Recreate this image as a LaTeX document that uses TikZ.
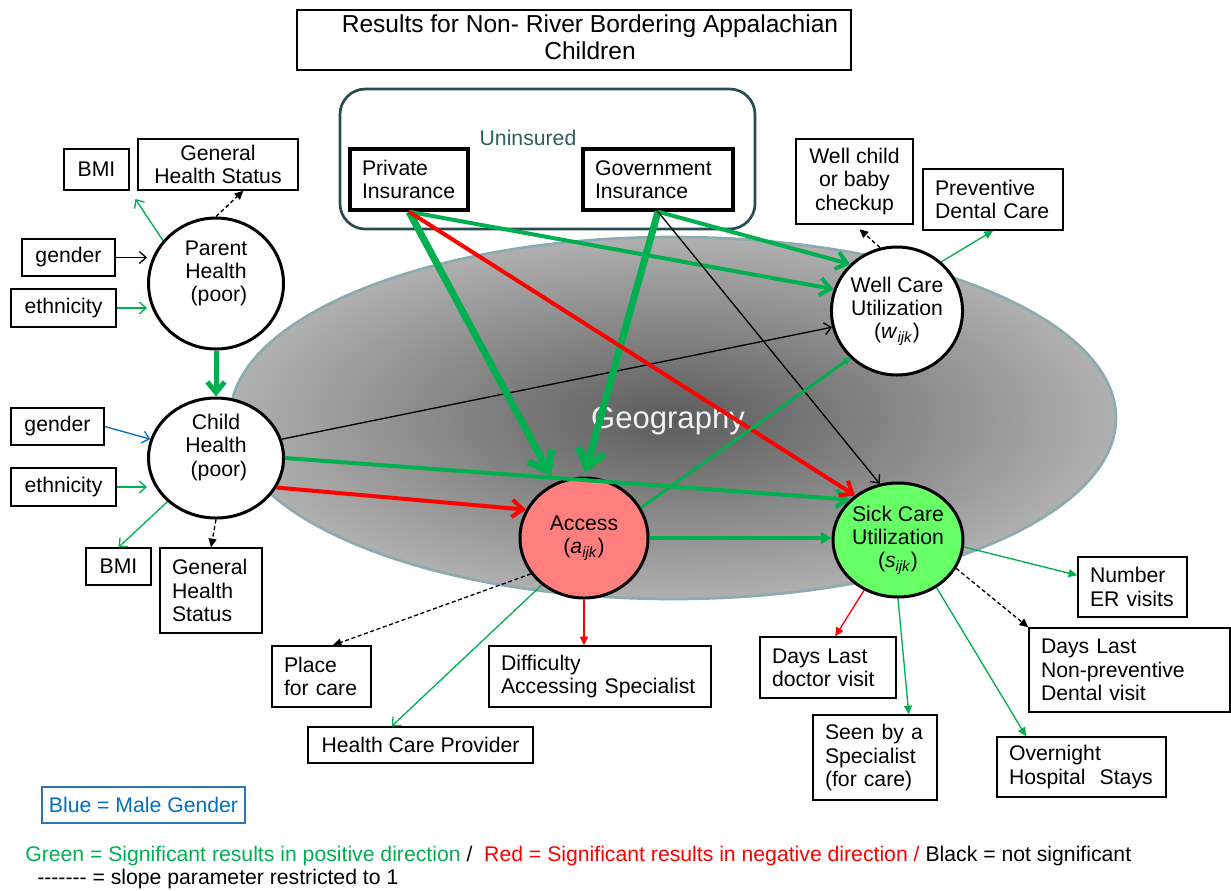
\documentclass[tikz,border=0pt]{standalone}
\usepackage{fontspec}
\setmainfont{Liberation Sans}
\usetikzlibrary{arrows.meta,shapes.geometric,calc}
\definecolor{pgreen}{RGB}{0,176,80}
\definecolor{pred}{RGB}{255,0,0}
\definecolor{pblue}{RGB}{0,112,192}
\definecolor{bluebox}{RGB}{46,117,182}
\definecolor{tealrim}{RGB}{38,75,80}
\definecolor{tealtext}{RGB}{47,92,96}
\definecolor{georim}{RGB}{140,170,175}
\definecolor{accfill}{RGB}{255,127,127}
\definecolor{sickfill}{RGB}{102,255,102}
\begin{document}
\begin{tikzpicture}[x=0.75pt,y=-0.75pt,
  font=\fontsize{15.9}{17.5}\selectfont,
  box/.style={draw,line width=1.1pt,inner sep=0pt,align=center},
  lbox/.style={draw,line width=1.1pt,inner xsep=9pt,inner ysep=0pt,align=left},
  ibox/.style={draw,line width=2.6pt,inner xsep=9pt,inner ysep=0pt,align=left},
  circ/.style={ellipse,draw,line width=2.25pt,fill=white,inner sep=0pt,align=center},
  ctext/.style={align=center,inner sep=0pt},
  lnA/.style={line width=1pt},
  lnB/.style={line width=3pt},
  lnC/.style={line width=5.25pt},
  dsh/.style={line width=1pt,dash pattern=on 3pt off 2pt},
  otip/.style={-{Straight Barb[length=5pt,width=9pt]}},
  otipm/.style={-{Straight Barb[length=8pt,width=13pt]}},
  otipL/.style={-{Straight Barb[length=13pt,width=20pt]}},
  ftip/.style={-{Triangle[length=6.5pt,width=6pt]}}
]
\useasboundingbox (0,0) rectangle (1231,890);
% geography ellipse
\path[draw=georim,line width=2pt,inner color=black!64,outer color=black!31]
  (673,418) ellipse [x radius=332.25pt, y radius=135.75pt];
\node[text=white!95!black,font=\fontsize{23.3}{28}\selectfont] (geo) at (668,420) {Geography};

% title
\node[draw,line width=1.5pt,minimum width=415.5pt,minimum height=45pt] (title) at (574,40) {};
\node[ctext,font=\fontsize{18.4}{20}\selectfont] (titletext) at (590,37)
  {Results for Non- River Bordering Appalachian\\Children};

% uninsured container
\node[draw=tealrim,line width=2pt,rounded corners=19pt,minimum width=311.25pt,minimum height=105pt] (unins) at (547.5,159) {};
\node[text=tealtext] (uninsl) at (528,138) {Uninsured};
\node[ibox,text width=70.5pt,minimum height=45.75pt] (pr) at (409,179.5) {Private\\Insurance};
\node[ibox,text width=94.5pt,minimum height=45.75pt] (gov) at (658,179.5) {Government\\Insurance};

% left boxes
\node[box,line width=1.8pt,minimum width=48.75pt,minimum height=30.75pt] (bmiA) at (96.5,169.5) {BMI};
\node[box,minimum width=120pt,minimum height=38.25pt] (ghsA) at (218,164.5) {General\\\mbox{Health Status}};
\node[box,minimum width=69.75pt,minimum height=27.75pt] (genA) at (68.5,257.5) {gender};
\node[box,minimum width=78.75pt,minimum height=28.5pt] (ethA) at (63.5,308) {ethnicity};
\node[box,minimum width=69.75pt,minimum height=27.75pt] (genB) at (57.5,426.5) {gender};
\node[box,minimum width=78.75pt,minimum height=28.5pt] (ethB) at (63.5,487) {ethnicity};
\node[box,minimum width=48.75pt,minimum height=27.75pt] (bmiB) at (118.5,566.5) {BMI};
\node[lbox,text width=58.5pt,minimum height=63.75pt] (ghsB) at (211,590.5) {General\\Health\\Status};

% right / bottom boxes
\node[box,minimum width=87.75pt,minimum height=63.75pt] (wellchild) at (854.5,181.5) {\mbox{Well child}\\\mbox{or baby}\\checkup};
\node[lbox,text width=87pt,minimum height=45.75pt] (prevdental) at (993,199.5) {Preventive\\\mbox{Dental Care}};
\node[lbox,text width=63.75pt,minimum height=45pt] (numER) at (1132.5,587) {Number\\\mbox{ER visits}};
\node[lbox,text width=132.75pt,minimum height=63pt] (dental) at (1129.5,670) {\mbox{Days Last}\\Non-preventive\\\mbox{Dental visit}};
\node[lbox,text width=84pt,minimum height=45.75pt] (doctor) at (828,667.5) {\mbox{Days Last}\\\mbox{doctor visit}};
\node[lbox,text width=75pt,minimum height=63.75pt] (seen) at (875,757.5) {\mbox{Seen by a}\\Specialist\\\mbox{(for care)}};
\node[lbox,text width=108.75pt,minimum height=45pt] (overnight) at (1081.5,767) {Overnight\\\mbox{Hospital\ \ Stays}};
\node[lbox,text width=56.25pt,minimum height=45.75pt] (place) at (321.5,676.5) {Place\\\mbox{for care}};
\node[lbox,text width=148.5pt,minimum height=45.75pt] (diff) at (600,676.5) {Difficulty\\\mbox{Accessing Specialist}};
\node[box,minimum width=168.75pt,minimum height=27pt] (hcp) at (420.5,745) {Health Care Provider};

% circles
\node[circ,minimum width=101.25pt,minimum height=98.25pt] (ph) at (216,283.5) {};
\node[ctext] (phtext) at (216,273.5) {Parent\\Health\\\ (poor)};
\node[circ,minimum width=101.25pt,minimum height=90pt] (ch) at (216,458) {};
\node[ctext] (chtext) at (216,447.5) {Child\\Health\\\ (poor)};
\node[circ,minimum width=96pt,minimum height=96pt] (wl) at (897,311) {Well Care\\Utilization\\(\textit{w}\textsubscript{\textit{ijk}})};
\node[circ,fill=accfill,minimum width=96pt,minimum height=90pt] (ac) at (584,538) {Access\\(\textit{a}\textsubscript{\textit{ijk}})};
\node[circ,fill=sickfill,minimum width=97.5pt,minimum height=85.5pt] (sk) at (898,540) {Sick Care\\Utilization\\(\textit{s}\textsubscript{\textit{ijk}})};

% legend
\node[draw=bluebox,line width=1.1pt,minimum width=152.25pt,minimum height=27pt,text=pblue,inner sep=0pt] (blueleg) at (143.5,805) {Blue = Male Gender};
\node[anchor=west,inner sep=0pt] (leg1) at (25,856)
  {\textcolor{pgreen}{Green = Significant results in positive direction} /\ \ \textcolor{pred}{Red = Significant results in negative direction /} Black = not significant};
\node[anchor=west,inner sep=0pt] (leg2) at (37,879)
  {-\kern0pt-\kern0pt-\kern0pt-\kern0pt-\kern0pt-\kern0pt- = slope parameter restricted to 1};

% parent edges
\draw[lnA,pgreen,otip,shorten >=7pt] (ph.141) -- (bmiA.south east);
\draw[dsh,ftip] (ph.north) -- (ghsA.314);
\draw[lnA,otip] (genA.east) -- (genA.east -| ph.west);
\draw[lnA,pgreen,otip] (ethA.east) -- (ethA.east -| ph.west);
\draw[line width=3.75pt,pgreen,-{Straight Barb[length=8pt,width=13pt]}] (ph.south) -- (ch.north);

% child edges
\draw[lnA,pblue,otip] (genB.east) -- (ch.164);
\draw[lnA,pgreen,otip] (ethB.east) -- (ethB.east -| ch.west);
\draw[lnA,pgreen,otip] (ch.222) -- (bmiB.north);
\draw[dsh,ftip] (ch.south) -- (ghsB.north);
\draw[lnA,otip] (ch.16) -- (wl.194);
\draw[lnB,pgreen,otipm] (ch.east) -- (sk.140);
\draw[lnB,pred,otipm] (ch.334) -- (ac.154);

% insurance edges
\draw[lnC,pgreen,otipL,shorten >=6pt] (pr.south) -- (ac.118);
\draw[lnC,pgreen,otipL,shorten >=3pt] (gov.south) -- (ac.north);
\draw[lnB,pgreen,otipm] (pr.south) -- (wl.161);
\draw[lnB,pgreen,otipm] (gov.south) -- (wl.135);
\draw[lnB,pred,otipm] (pr.south) -- (sk.134);
\draw[lnA,otip] (gov.south) -- (sk.108);

% access edges
\draw[line width=2.25pt,pgreen,-{Triangle[length=5pt,width=6pt]}] (ac.28.5) -- (wl.225);
\draw[lnB,pgreen,-{Triangle[length=8pt,width=9pt]}] (ac.east) -- (ac.east -| sk.west);
\draw[dsh,ftip] (ac.214) -- (place.70);
\draw[lnA,pgreen,otip] (ac.228) -- (hcp.147);
\draw[lnA,pred,ftip] (ac.south) -- (ac.south |- diff.north);

% sick care edges
\draw[lnA,pgreen,ftip] (sk.354) -- (numER.168);
\draw[dsh,ftip] (sk.334) -- (dental.north west);
\draw[lnA,pred,ftip] (sk.236) -- (doctor.77);
\draw[lnA,pgreen,ftip] (sk.south) -- (seen.52);
\draw[lnA,pgreen,ftip] (sk.309) -- (overnight.151);

% well care edges
\draw[dsh,ftip,shorten >=5pt] (wl.105) -- (wellchild.south);
\draw[lnA,pgreen,ftip] (wl.48) -- (prevdental.south);
\end{tikzpicture}
\end{document}
